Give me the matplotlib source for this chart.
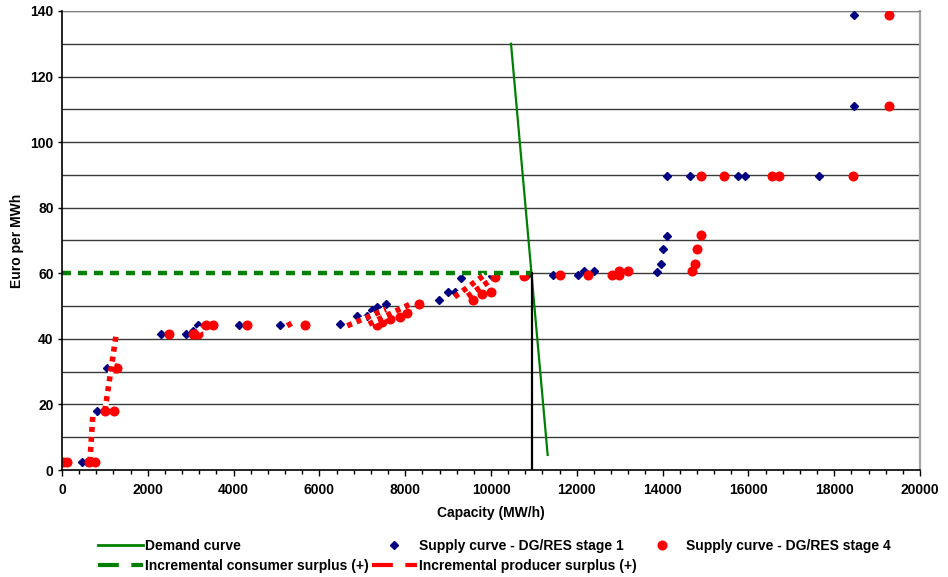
import matplotlib
matplotlib.use("Agg")
import matplotlib.pyplot as plt
from matplotlib.lines import Line2D
from matplotlib.ticker import MultipleLocator

plt.rcParams['font.family'] = ['Liberation Sans', 'DejaVu Sans']
plt.rcParams['font.weight'] = 'bold'
plt.rcParams['font.size'] = 10

# supply curve, DG/RES stage 1 (MW/h, Euro per MWh)
stage1_x = [460, 575, 823, 1040, 1120, 2300, 2883, 3060, 3177, 3333, 4133, 5082,
            6480, 6870, 7100, 7220, 7335, 7560, 8780, 9005, 9161, 9300, 10016,
            10840, 11452, 12020, 12176, 12408, 13877, 13955, 14000, 14095,
            14096, 14640, 15765, 15920, 17645, 18470, 18470]
stage1_y = [2.5, 2.5, 18, 31.2, 31.2, 41.4, 41.4, 42.5, 44.2, 44.2, 44.2, 44.2,
            44.5, 47, 47, 48.8, 49.8, 50.7, 52, 54.2, 54.2, 58.5, 59.2,
            59.5, 59.5, 59.5, 60.7, 60.7, 60.5, 62.7, 67.4, 71.5,
            89.7, 89.7, 89.7, 89.7, 89.7, 111.1, 138.8]

# supply curve, DG/RES stage 4
stage4_x = [30, 110, 640, 770, 1000, 1220, 1230, 1280, 2494, 3060, 3177, 3350,
            3527, 4320, 5665, 7335, 7450, 7646, 7879, 8035, 8328, 9570, 9783,
            9993, 10093, 10769, 11608, 12262, 12830, 12985, 12985, 13200,
            14677, 14755, 14795, 14895, 14900, 15430, 16560, 16713, 18445,
            19280, 19280]
stage4_y = [2.5, 2.5, 2.5, 2.5, 18, 18, 31.2, 31.2, 41.4, 41.4, 41.4, 44.2,
            44.2, 44.2, 44.2, 44.2, 45.2, 46.2, 46.8, 47.8, 50.6, 52, 53.7,
            54.2, 58.8, 59.2, 59.5, 59.5, 59.5, 59.5, 60.7, 60.7,
            60.7, 62.7, 67.4, 71.7, 89.7, 89.7, 89.7, 89.7, 89.7,
            111.1, 138.8]

# demand curve
demand_x = [10466, 11320]
demand_y = [130, 4.6]

# market clearing
clear_x = 10950
clear_price = 60

# incremental producer surplus pieces (start, end)
producer_segments = [
    ((650, 2.5), (720, 17)),
    ((1000, 18), (1270, 42)),
    ((3080, 41.4), (3300, 43.8)),
    ((5250, 44), (5450, 45.5)),
    ((6650, 44), (7550, 49)),
    ((7150, 44.5), (8100, 50.5)),
    ((9150, 52.8), (9850, 59.5)),
    ((9450, 53), (9950, 57.5)),
]

fig = plt.figure(figsize=(9.48, 5.77), dpi=100)
ax = fig.add_axes([0.0654, 0.1854, 0.9051, 0.7956])

for y in range(10, 141, 10):
    ax.axhline(y, color='#3a3a3a', lw=1.0, zorder=1)

ax.plot(stage1_x, stage1_y, linestyle='none', marker='D', ms=3.8,
        color='#000080', zorder=3)
ax.plot(stage4_x, stage4_y, linestyle='none', marker='o', ms=6.2,
        color='#ff0000', zorder=4)

ax.plot([0, clear_x], [clear_price, clear_price], color='#008000', lw=3.2,
        linestyle=(0, (2, 1.6)), gapcolor='white', solid_capstyle='butt',
        zorder=5)
for (x0, y0), (x1, y1) in producer_segments:
    ax.plot([x0, x1], [y0, y1], color='#ff0000', lw=4,
            linestyle=(0, (0.9, 0.9)), gapcolor='white', zorder=5)

ax.plot(demand_x, demand_y, color='#008000', lw=1.6, zorder=6)
ax.plot([clear_x, clear_x], [0, clear_price], color='black', lw=1.6, zorder=7)

ax.set_xlim(0, 20000)
ax.set_ylim(0, 140)
ax.xaxis.set_major_locator(MultipleLocator(2000))
ax.xaxis.set_minor_locator(MultipleLocator(400))
ax.yaxis.set_major_locator(MultipleLocator(20))
ax.tick_params(axis='x', which='major', direction='out', length=4, width=1, pad=5)
ax.tick_params(axis='x', which='minor', direction='out', length=3, width=1)
ax.tick_params(axis='y', which='major', direction='out', length=3, width=1, pad=3)

for s in ['left', 'bottom']:
    ax.spines[s].set_color('black')
    ax.spines[s].set_linewidth(1.2)
ax.spines['right'].set_color('#a6a6a6')
ax.spines['right'].set_linewidth(1.6)
ax.spines['top'].set_color('#808080')
ax.spines['left'].set_zorder(8)
ax.spines['bottom'].set_zorder(8)

ax.set_xlabel('Capacity (MW/h)', fontweight='bold', va='center')
ax.xaxis.set_label_coords(0.5, -0.094)
ax.set_ylabel('Euro per MWh', fontweight='bold', va='center')
ax.yaxis.set_label_coords(-0.052, 0.5)

handles = [
    Line2D([], [], color='#008000', lw=2),
    Line2D([], [], color='#008000', lw=3, linestyle=(0, (5, 3))),
    Line2D([], [], color='#000080', marker='D', ms=3.8, linestyle='none'),
    Line2D([], [], color='#ff0000', lw=3, linestyle=(0, (5, 3))),
    Line2D([], [], color='#ff0000', marker='o', ms=6.2, linestyle='none'),
]
labels = ['Demand curve', 'Incremental consumer surplus (+)',
          'Supply curve - DG/RES stage 1', 'Incremental producer surplus (+)',
          'Supply curve - DG/RES stage 4']
fig.legend(handles, labels, ncol=3, loc='center', bbox_to_anchor=(0.522, 0.036),
           frameon=False, handlelength=3.2, handletextpad=0.15,
           columnspacing=0.25, labelspacing=0.45, fontsize=10)

fig.savefig('out.png', dpi=100)
